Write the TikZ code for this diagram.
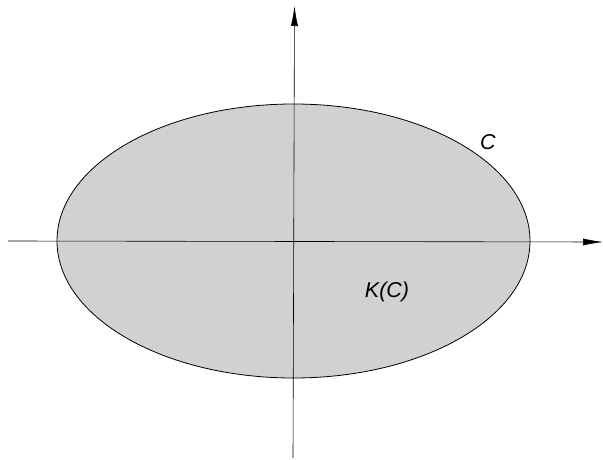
\documentclass[tikz,border=0pt]{standalone}
\usepackage{fontspec}
\setmainfont{Liberation Sans}
\usetikzlibrary{arrows.meta}
\begin{document}
\begin{tikzpicture}[x=1pt,y=-1pt,
  axis/.style={line width=0.6pt,-{Latex[length=20pt,width=7pt]}},
  lbl/.style={font=\fontsize{21.5}{24}\selectfont\itshape}]
\useasboundingbox (0,0) rectangle (603,460);
\filldraw[fill=black!18,draw=black,line width=0.8pt] (293.5,241) ellipse [x radius=236.5, y radius=137];
\coordinate (xs) at (8,241);
\coordinate (xe) at (603,242);
\coordinate (ys) at (293,458);
\coordinate (ye) at (294.5,6);
\draw[axis] (xs) -- (xe);
\draw[axis] (ys) -- (ye);
\node[lbl] (c) at (488,142) {C};
\node[lbl] (kc) at (387,292) {K(C)};
\end{tikzpicture}
\end{document}
